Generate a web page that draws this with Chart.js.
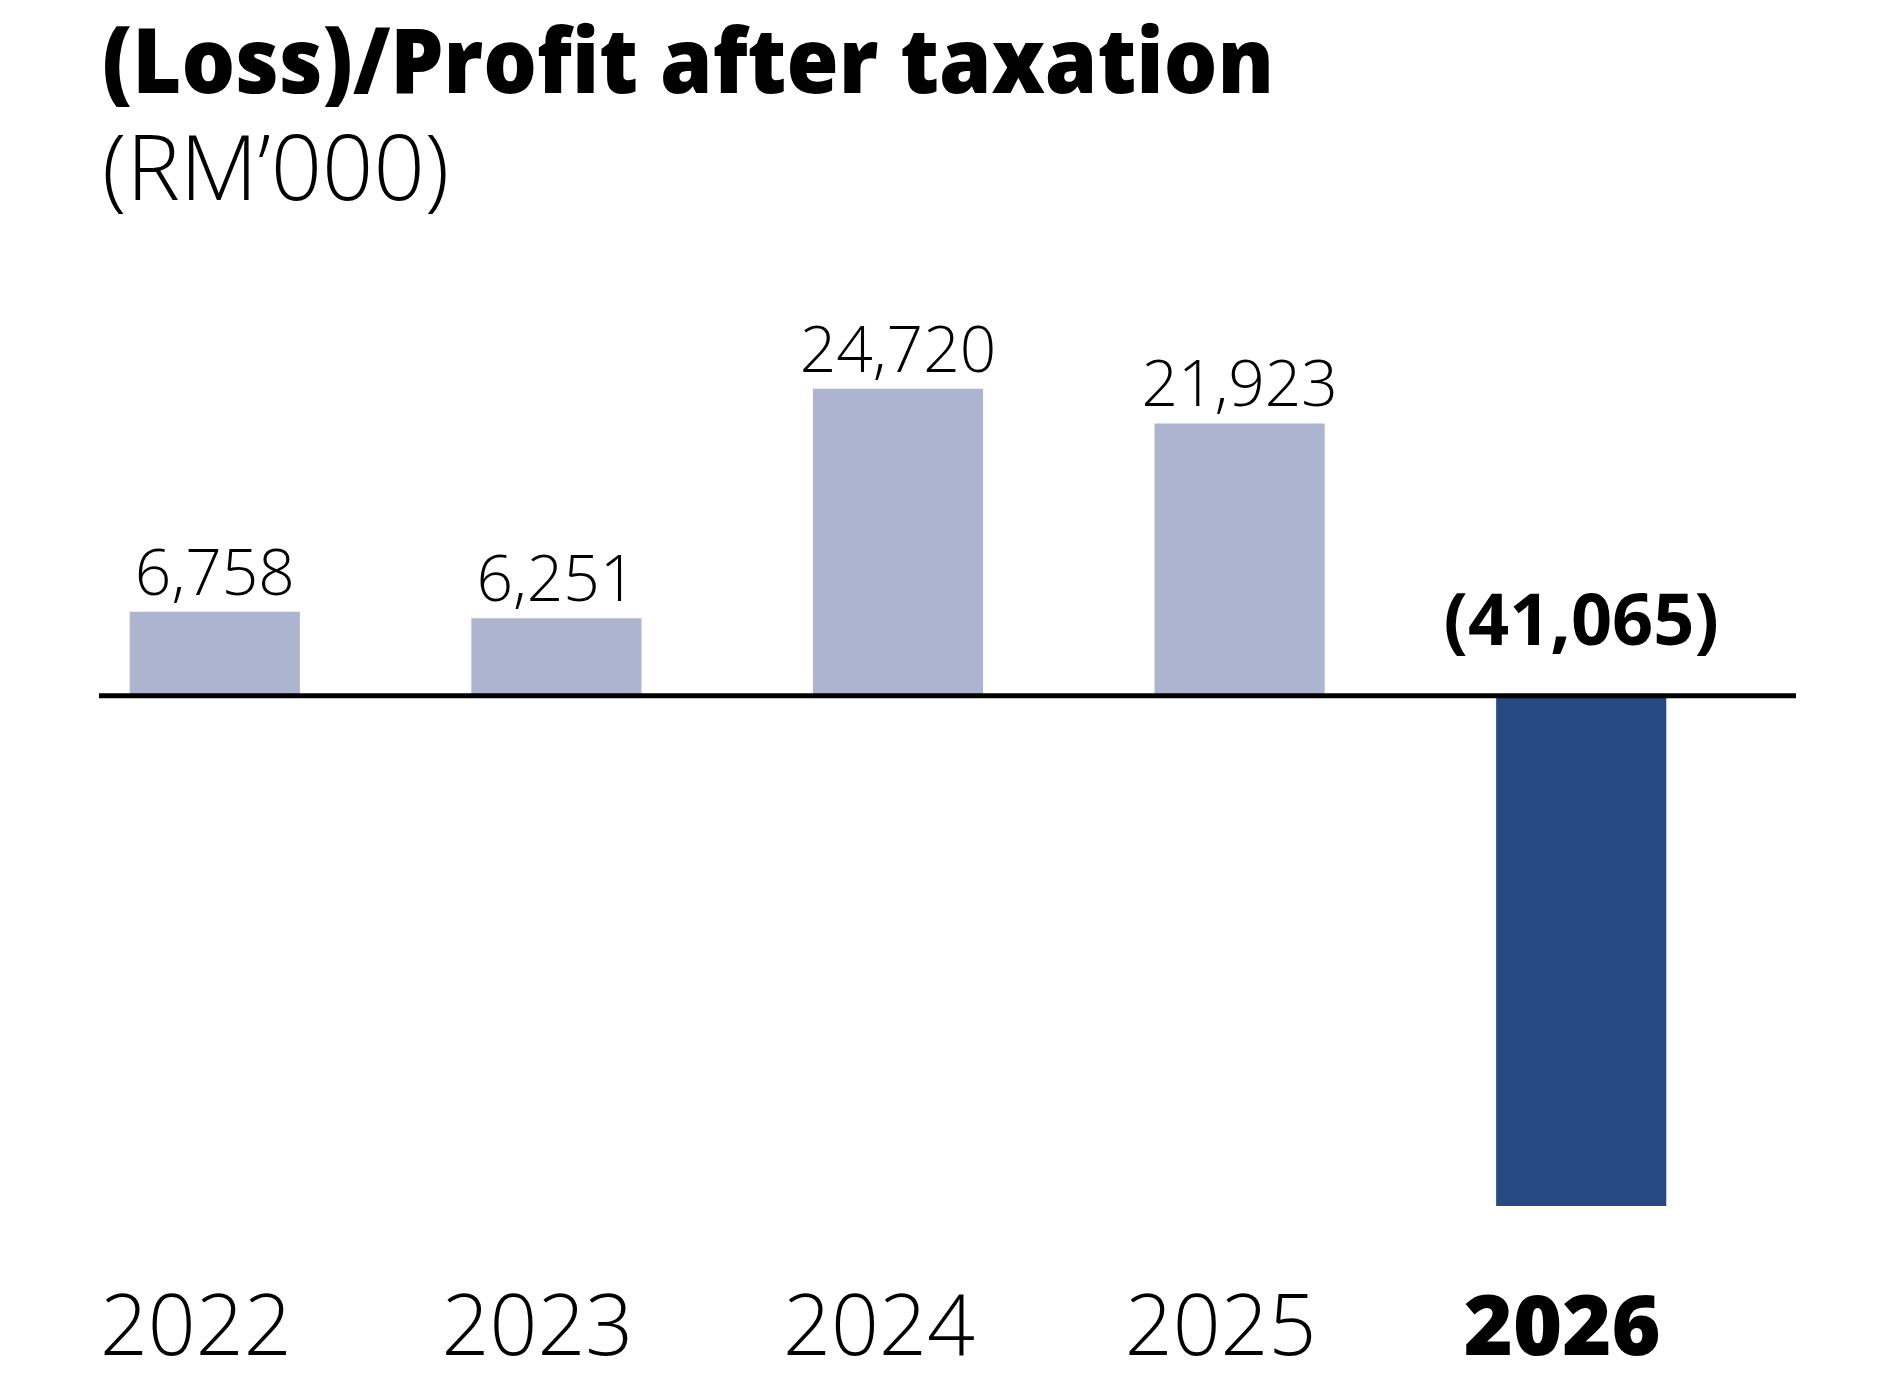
<!DOCTYPE html>
<html>
<head>
<meta charset="utf-8">
<title>(Loss)/Profit after taxation</title>
<script src="https://cdn.jsdelivr.net/npm/chart.js@4.4.1/dist/chart.umd.min.js"></script>
<style>
  html, body { margin: 0; padding: 0; background: #fff; }
  #wrap { position: relative; width: 1896px; height: 1384px; overflow: hidden; }
  #chart { position: absolute; left: 0; top: 0; }
  .title {
    position: absolute; left: 102px; top: 13px;
    font-family: "Open Sans", sans-serif; font-weight: 800; font-stretch: 88%;
    font-size: 91px; line-height: 1; color: #000; white-space: nowrap;
    transform: scaleX(0.928); transform-origin: left top;
  }
  .subtitle {
    position: absolute; left: 102px; top: 120px;
    font-family: "Open Sans", sans-serif; font-weight: 300; font-stretch: 96%;
    font-size: 90px; line-height: 1; color: #000; white-space: nowrap;
  }
</style>
</head>
<body>
<div id="wrap">
  <canvas id="chart" width="1896" height="1384"></canvas>
  <div class="title">(Loss)/Profit after taxation</div>
  <div class="subtitle">(RM’000)</div>
</div>
<script>
// データ
const years = ["2022", "2023", "2024", "2025", "2026"];
const profitAfterTax = [6758, 6251, 24720, 21923, -41065]; // RM'000
const highlightYear = "2026";

// 色
const profitColor = "#acb4d0";
const lossColor = "#264883";

// 数値ラベル: 損失は括弧付き
function formatValue(v) {
  const s = Math.abs(v).toLocaleString("en-US");
  return v < 0 ? "(" + s + ")" : s;
}

// ゼロ線と数値ラベルを描くプラグイン
const annotatePlugin = {
  id: "annotate",
  afterDatasetsDraw(chart) {
    const ctx = chart.ctx;
    const y0 = chart.scales.y.getPixelForValue(0);

    // ゼロ線
    ctx.save();
    ctx.strokeStyle = "#000";
    ctx.lineWidth = 5;
    ctx.beginPath();
    ctx.moveTo(99, y0);
    ctx.lineTo(1796, y0);
    ctx.stroke();
    ctx.restore();

    // 数値ラベル
    const meta = chart.getDatasetMeta(0);
    ctx.save();
    ctx.fillStyle = "#000";
    ctx.textAlign = "center";
    ctx.textBaseline = "alphabetic";
    meta.data.forEach(function (bar, i) {
      const v = profitAfterTax[i];
      if (v < 0) {
        ctx.font = "normal 700 72px 'Open Sans'";
        ctx.fillText(formatValue(v), bar.x, y0 - 51);
      } else {
        ctx.font = "normal 300 64px 'Open Sans'";
        ctx.fillText(formatValue(v), bar.x, bar.y - 17);
      }
    });
    ctx.restore();
  },
};

new Chart(document.getElementById("chart"), {
  type: "bar",
  data: {
    labels: years,
    datasets: [
      {
        data: profitAfterTax,
        backgroundColor: profitAfterTax.map((v) => (v < 0 ? lossColor : profitColor)),
        borderWidth: 0,
        categoryPercentage: 1,
        barPercentage: 0.498,
      },
    ],
  },
  options: {
    responsive: false,
    animation: false,
    devicePixelRatio: 1,
    layout: { padding: { left: 44, right: 144, top: 0, bottom: 0 } },
    plugins: {
      legend: { display: false },
      tooltip: { enabled: false },
    },
    scales: {
      x: {
        grid: { display: false, drawTicks: false },
        border: { display: false },
        afterFit: function (scale) {
          scale.height = 134;
        },
        ticks: {
          padding: 31,
          labelOffset: -19,
          color: "#000",
          font: function (context) {
            const bold = years[context.index] === highlightYear;
            return { family: "'Open Sans'", size: 84, weight: bold ? 800 : 300 };
          },
        },
      },
      y: {
        display: false,
        min: -44600,
        max: 56000,
      },
    },
  },
  plugins: [annotatePlugin],
});
</script>
</body>
</html>
